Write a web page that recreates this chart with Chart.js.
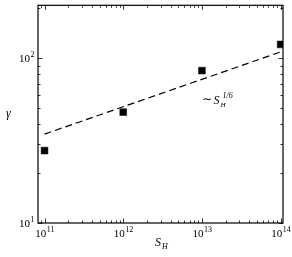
<!DOCTYPE html>
<html>
<head>
<meta charset="utf-8">
<script src="https://cdn.jsdelivr.net/npm/chart.js@4.4.1/dist/chart.umd.min.js"></script>
<style>
  html, body { margin: 0; padding: 0; background: #fff; }
  #wrap { width: 292px; height: 257px; }
</style>
</head>
<body>
<div id="wrap"><canvas id="gammaChart"></canvas></div>
<script>
// measured points
const sH = [1e11, 1e12, 1e13, 1e14];
const gamma = [27.5, 47, 84, 121];
// dashed ~ S_H^(1/6) guide line, end points
const fitX = [1e11, 1e14];
const fitY = [34.6, 109];
// decade labels
const xTickExp = [11, 12, 13, 14];
const yTickExp = [1, 2];

const serif = '"Liberation Serif", "DejaVu Serif", serif';

function supText(ctx, x, y, base, exp, align) {
    ctx.font = '11px ' + serif;
    const bw = ctx.measureText(base).width;
    ctx.font = '8px ' + serif;
    const ew = ctx.measureText(exp).width;
    let x0 = x;
    if (align === 'center') x0 = x - (bw + ew) / 2;
    if (align === 'right') x0 = x - (bw + ew);
    ctx.font = '11px ' + serif;
    ctx.fillText(base, x0, y);
    ctx.font = '8px ' + serif;
    ctx.fillText(exp, x0 + bw + 0.5, y - 5);
}

const axesPlugin = {
    id: 'axesPlugin',
    afterDraw(chart) {
        const ctx = chart.ctx;
        const a = chart.chartArea;
        const xs = chart.scales.x, ys = chart.scales.y;
        ctx.save();
        ctx.strokeStyle = '#000';
        ctx.fillStyle = '#000';
        ctx.lineWidth = 1.2;
        ctx.strokeRect(a.left, a.top, a.right - a.left, a.bottom - a.top);

        ctx.lineWidth = 0.8;
        ctx.beginPath();
        // x ticks
        for (let e = 10; e <= 14; e++) {
            for (let k = 1; k <= 9; k++) {
                const v = k * Math.pow(10, e);
                if (v < xs.min || v > xs.max) continue;
                const px = Math.round(xs.getPixelForValue(v)) + 0.5;
                const len = k === 1 ? 4.5 : 2.5;
                ctx.moveTo(px, a.bottom); ctx.lineTo(px, a.bottom - len);
                ctx.moveTo(px, a.top); ctx.lineTo(px, a.top + len);
            }
        }
        // y ticks
        for (let e = 1; e <= 2; e++) {
            for (let k = 1; k <= 9; k++) {
                const v = k * Math.pow(10, e);
                if (v < ys.min || v > ys.max) continue;
                const py = Math.round(ys.getPixelForValue(v)) + 0.5;
                const len = k === 1 ? 4.5 : 2.5;
                ctx.moveTo(a.left, py); ctx.lineTo(a.left + len, py);
                ctx.moveTo(a.right, py); ctx.lineTo(a.right - len, py);
            }
        }
        ctx.stroke();

        ctx.textBaseline = 'alphabetic';
        ctx.textAlign = 'left';
        xTickExp.forEach(function(e) {
            supText(ctx, xs.getPixelForValue(Math.pow(10, e)), 237, '10', String(e), 'center');
        });
        yTickExp.forEach(function(e) {
            supText(ctx, 34, ys.getPixelForValue(Math.pow(10, e)) + 4, '10', String(e), 'right');
        });

        // axis titles
        ctx.font = 'italic 12px ' + serif;
        ctx.fillText('γ', 6, 117);
        ctx.fillText('S', 155, 246);
        ctx.font = 'italic 8px ' + serif;
        ctx.fillText('H', 162, 249);

        // annotation
        ctx.font = '12px ' + serif;
        ctx.fillText('∼', 202, 103);
        ctx.font = 'italic 12px ' + serif;
        ctx.fillText('S', 213.5, 104);
        ctx.font = 'italic 7px ' + serif;
        ctx.fillText('H', 220.5, 107);
        ctx.font = 'italic 8px ' + serif;
        ctx.fillText('1/6', 222.5, 98);
        ctx.restore();
    }
};

const ctx1 = document.getElementById('gammaChart').getContext('2d');
const gammaChart = new Chart(ctx1, {
    type: 'scatter',
    data: {
        datasets: [{
            label: 'gamma',
            data: sH.map((x, i) => ({ x: x, y: gamma[i] })),
            pointStyle: 'rect',
            pointRadius: 4.8,
            pointBackgroundColor: '#000',
            pointBorderColor: '#000',
            pointBorderWidth: 0.5,
            order: 1
        }, {
            label: 'fit',
            data: fitX.map((x, i) => ({ x: x, y: fitY[i] })),
            showLine: true,
            pointRadius: 0,
            borderColor: '#000',
            borderWidth: 1.2,
            borderDash: [7, 4],
            order: 2
        }]
    },
    options: {
        responsive: true,
        maintainAspectRatio: false,
        animation: false,
        layout: { padding: { left: 38, right: 9, top: 5, bottom: 34 } },
        plugins: { legend: { display: false }, tooltip: { enabled: false } },
        scales: {
            x: { type: 'logarithmic', display: false, min: Math.pow(10, 10.917), max: Math.pow(10, 14.03) },
            y: { type: 'logarithmic', display: false, min: 10, max: 209 }
        }
    },
    plugins: [axesPlugin]
});
</script>
</body>
</html>
